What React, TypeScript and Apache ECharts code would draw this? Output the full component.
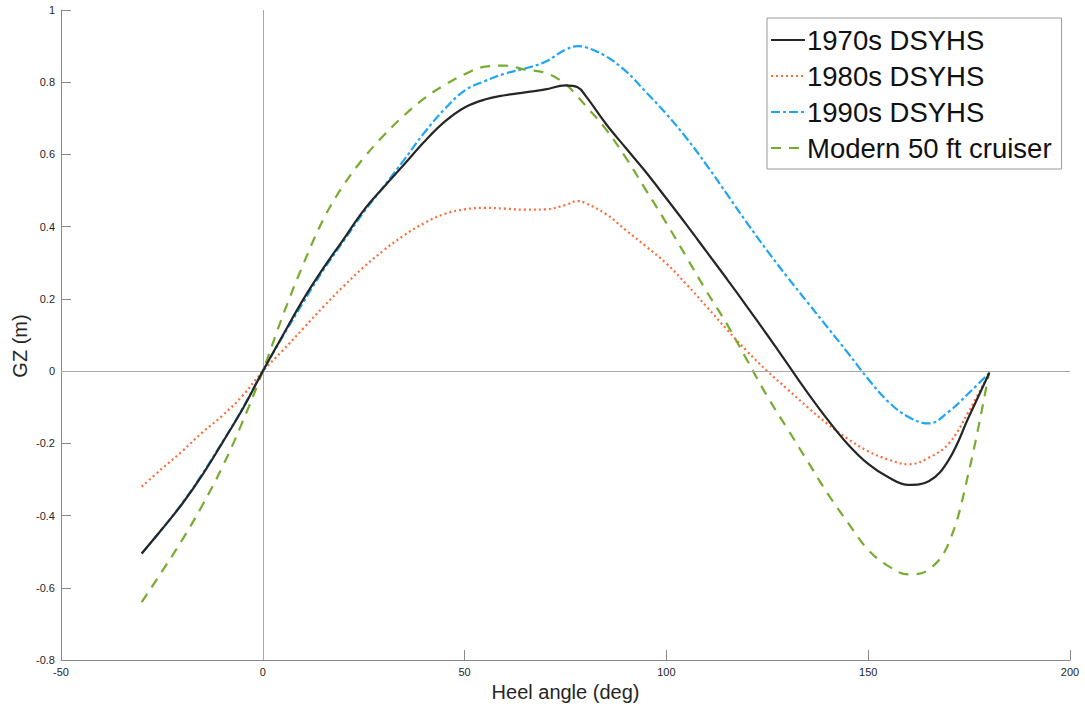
import React, { useEffect, useRef } from "react";
import * as echarts from "echarts";

const angles = [-30, -25, -20, -15, -10, -5, 0, 5, 10, 15, 20, 25, 30, 35, 40, 45, 50, 55, 60, 65, 70, 75, 78, 80, 85, 90, 95, 100, 105, 110, 115, 120, 125, 130, 135, 140, 145, 150, 155, 160, 165, 170, 175, 180];

const gz1970 = [-0.505, -0.438, -0.368, -0.288, -0.198, -0.105, 0, 0.1, 0.198, 0.285, 0.365, 0.445, 0.51, 0.572, 0.635, 0.69, 0.73, 0.752, 0.764, 0.772, 0.78, 0.791, 0.786, 0.762, 0.685, 0.617, 0.55, 0.478, 0.405, 0.33, 0.255, 0.178, 0.1, 0.02, -0.06, -0.135, -0.203, -0.257, -0.294, -0.315, -0.305, -0.245, -0.125, -0.005];

const gz1980 = [-0.32, -0.27, -0.222, -0.17, -0.123, -0.068, 0, 0.058, 0.118, 0.178, 0.235, 0.288, 0.335, 0.376, 0.41, 0.435, 0.448, 0.452, 0.45, 0.447, 0.448, 0.46, 0.471, 0.465, 0.435, 0.39, 0.345, 0.298, 0.24, 0.178, 0.115, 0.055, 0.0, -0.05, -0.1, -0.147, -0.188, -0.222, -0.245, -0.258, -0.24, -0.2, -0.11, -0.005];

const gz1990 = [-0.505, -0.438, -0.366, -0.285, -0.196, -0.103, 0, 0.097, 0.19, 0.28, 0.36, 0.44, 0.512, 0.585, 0.66, 0.725, 0.777, 0.803, 0.824, 0.838, 0.857, 0.89, 0.9, 0.897, 0.872, 0.83, 0.772, 0.712, 0.645, 0.57, 0.49, 0.41, 0.333, 0.26, 0.19, 0.12, 0.05, -0.022, -0.085, -0.127, -0.145, -0.112, -0.06, -0.005];

const gzModern = [-0.64, -0.555, -0.468, -0.372, -0.265, -0.14, 0, 0.155, 0.295, 0.42, 0.515, 0.59, 0.653, 0.708, 0.755, 0.792, 0.822, 0.843, 0.846, 0.835, 0.826, 0.795, 0.76, 0.735, 0.67, 0.59, 0.5, 0.41, 0.315, 0.22, 0.13, 0.03, -0.07, -0.16, -0.25, -0.34, -0.42, -0.495, -0.54, -0.563, -0.55, -0.475, -0.275, 0];

const seriesNames = ["1970s DSYHS", "1980s DSYHS", "1990s DSYHS", "Modern 50 ft cruiser"];
const xTicks = { min: -50, max: 200, interval: 50 };
const yTicks = { min: -0.8, max: 1, interval: 0.2 };

const FONT = "'Liberation Sans', Arial, Helvetica, sans-serif";

function pairs(ys: number[]) {
  return angles.map((a, i) => [a, ys[i]]);
}

export default function App() {
  const ref = useRef<HTMLDivElement>(null);
  useEffect(() => {
    if (!ref.current) return;
    const chart = echarts.init(ref.current, undefined, { renderer: "svg" });
    const axisColor = "#8a8a8a";
    const labelColor = "#262626";
    const mk = (name: string, data: number[], color: string, type: any, width: number, extra: any = {}) => ({
      name,
      type: "line",
      data: pairs(data),
      symbol: "none",
      smooth: 0.4,
      lineStyle: { color, type, width },
      itemStyle: { color },
      ...extra,
    });
    chart.setOption({
      animation: false,
      backgroundColor: "#ffffff",
      textStyle: { fontFamily: FONT },
      grid: { left: 61, top: 10, right: 15, bottom: 51, containLabel: false },
      xAxis: {
        type: "value",
        min: xTicks.min,
        max: xTicks.max,
        interval: xTicks.interval,
        name: "Heel angle (deg)",
        nameLocation: "middle",
        nameGap: 22,
        nameTextStyle: { fontSize: 20, color: labelColor, fontFamily: FONT },
        axisLine: { onZero: false, lineStyle: { color: axisColor, width: 1 } },
        axisTick: { inside: true, length: 10, lineStyle: { color: axisColor } },
        axisLabel: { fontSize: 11, color: labelColor, margin: 6, fontFamily: FONT },
        splitLine: { show: false },
      },
      yAxis: {
        type: "value",
        min: yTicks.min,
        max: yTicks.max,
        interval: yTicks.interval,
        axisLine: { show: true, onZero: false, lineStyle: { color: axisColor, width: 1 } },
        axisTick: { show: true, inside: true, length: 10, lineStyle: { color: axisColor } },
        axisLabel: {
          fontSize: 11,
          color: labelColor,
          margin: 6,
          fontFamily: FONT,
          formatter: (v: number) => String(Math.round(v * 10) / 10),
        },
        splitLine: { show: false },
      },
      legend: {
        orient: "vertical",
        left: 767,
        top: 18,
        padding: [8, 10, 7, 3],
        itemWidth: 34,
        itemHeight: 14,
        itemGap: 8,
        backgroundColor: "#ffffff",
        borderColor: "#9a9a9a",
        borderWidth: 1,
        itemStyle: { opacity: 0 },
        textStyle: { fontSize: 27.5, color: "#111111", fontFamily: FONT, padding: [0, 0, 0, -3] },
        data: seriesNames,
      },
      graphic: [
        {
          type: "text",
          x: 20,
          y: 346,
          rotation: Math.PI / 2,
          style: {
            text: "GZ (m)",
            fontSize: 20,
            fontFamily: FONT,
            fill: labelColor,
            align: "center",
            verticalAlign: "middle",
          },
        },
      ],
      series: [
        mk(seriesNames[0], gz1970, "#262626", "solid", 2.2, {
          z: 5,
          markLine: {
            silent: true,
            symbol: "none",
            label: { show: false },
            lineStyle: { color: "#a8a8a8", type: "solid", width: 1 },
            data: [{ xAxis: 0 }, { yAxis: 0 }],
            animation: false,
          },
        }),
        mk(seriesNames[1], gz1980, "#ff6a35", [2, 3], 2.2),
        mk(seriesNames[2], gz1990, "#1ea5f7", [9, 3, 3, 3], 2.2),
        mk(seriesNames[3], gzModern, "#77ac30", [10, 8], 2.2),
      ],
    });
    return () => chart.dispose();
  }, []);
  return (
    <div
      ref={ref}
      style={{ position: "fixed", left: 0, top: 0, width: 1085, height: 711, background: "#fff" }}
    />
  );
}
